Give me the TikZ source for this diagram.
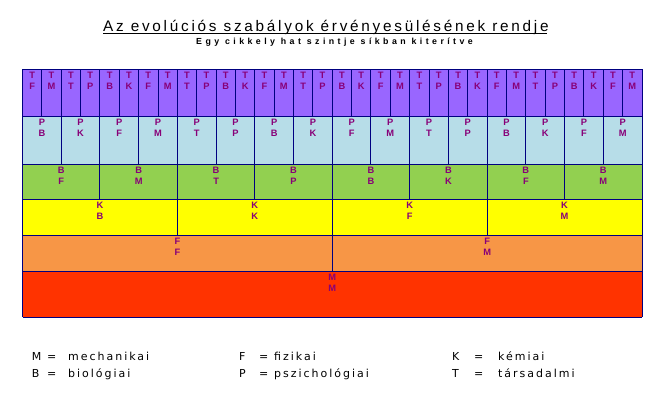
\documentclass[tikz,border=0pt]{standalone}
\usepackage{fontspec}
\setmainfont{Liberation Sans}
\newfontfamily\cellafont{DejaVu Sans}
\usepackage{tikz}

\definecolor{keret}{RGB}{0,0,128}
\definecolor{betu}{RGB}{136,0,120}
\definecolor{lila}{RGB}{153,102,255}
\definecolor{kek}{RGB}{183,221,232}
\definecolor{zold}{RGB}{146,208,80}
\definecolor{sarga}{RGB}{255,255,0}
\definecolor{narancs}{RGB}{247,150,70}
\definecolor{piros}{RGB}{255,51,0}

\tikzset{
  cimke/.style={anchor=north, inner sep=0pt, yshift=-2.2pt, align=center, text=betu,
    font=\bfseries\fontsize{9.3}{11.2}\selectfont},
  jelmag/.style={anchor=base west, inner sep=0pt,
    font=\cellafont\fontsize{11}{13}\selectfont\addfontfeature{LetterSpace=18}},
  vonal/.style={draw=keret, line width=1pt}
}

\begin{document}
\begin{tikzpicture}[x=1pt,y=-1pt]
\useasboundingbox (0,0) rectangle (664,396);

% cim es alcim
\node[anchor=base west, inner sep=0pt] (cim) at (103,31.7)
  {\fontsize{15.3}{18}\selectfont\addfontfeature{LetterSpace=18}Az evolúciós szabályok érvényesülésének rendje};
\draw[line width=0.9pt] ([yshift=-1.6pt]cim.base west) -- ([yshift=-1.6pt,xshift=-2pt]cim.base east);
\node[anchor=base west, inner sep=0pt] (alcim) at (196,45)
  {\bfseries\fontsize{8.8}{10}\selectfont\addfontfeature{LetterSpace=39}Egy cikkely hat szintje síkban kiterítve};

% szintek: sorszam / felso / also / szin / cellak
\pgfmathsetmacro{\w}{619.5/32}
\foreach \s/\fent/\lent/\szin/\db in {1/69.3/116.7/lila/32, 2/116.7/164.3/kek/16,
    3/164.3/199.3/zold/8, 4/199.3/235.3/sarga/4, 5/235.3/271.3/narancs/2, 6/271.3/317/piros/1}{
  \pgfmathsetmacro{\cw}{619.5/\db}
  \fill[\szin] (22.5,\fent) rectangle (642,\lent);
  \foreach \k in {0,...,\db}{
    \draw[vonal] ({22.5+\k*\cw},\fent) -- ({22.5+\k*\cw},\lent);
  }
  \draw[vonal] (22.5,\fent) -- (642,\fent);
  \draw[vonal] (22.5,\lent) -- (642,\lent);
}

% cimkek
\foreach \b [count=\i from 0] in {F,M,T,P,B,K,F,M,T,P,B,K,F,M,T,P,B,K,F,M,T,P,B,K,F,M,T,P,B,K,F,M}{
  \node[cimke] (t\i) at ({22.5+(\i+0.5)*\w},69.3) {T\\\b};
}
\foreach \b [count=\i from 0] in {B,K,F,M,T,P,B,K,F,M,T,P,B,K,F,M}{
  \node[cimke] (p\i) at ({22.5+(\i+0.5)*2*\w},116.7) {P\\\b};
}
\foreach \b [count=\i from 0] in {F,M,T,P,B,K,F,M}{
  \node[cimke] (b\i) at ({22.5+(\i+0.5)*4*\w},164.3) {B\\\b};
}
\foreach \b [count=\i from 0] in {B,K,F,M}{
  \node[cimke] (k\i) at ({22.5+(\i+0.5)*8*\w},199.3) {K\\\b};
}
\foreach \b [count=\i from 0] in {F,M}{
  \node[cimke] (f\i) at ({22.5+(\i+0.5)*16*\w},235.3) {F\\\b};
}
\node[cimke] (m0) at (332.25,271.3) {M\\M};

% jelmagyarazat
\node[jelmag] (jm) at (31.7,360) {M};
\node[jelmag] (jme) at (47,360) {=};
\node[jelmag] (jmt) at (68,360) {mechanikai};
\node[jelmag] (jb) at (31.7,377) {B};
\node[jelmag] (jbe) at (47,377) {=};
\node[jelmag] (jbt) at (68,377) {biológiai};
\node[jelmag] (jf) at (239,360) {F};
\node[jelmag] (jfe) at (259,360) {=};
\node[jelmag] (jft) at (274,360) {fizikai};
\node[jelmag] (jp) at (239,377) {P};
\node[jelmag] (jpe) at (259,377) {=};
\node[jelmag] (jpt) at (274,377) {pszichológiai};
\node[jelmag] (jk) at (452,360) {K};
\node[jelmag] (jke) at (474,360) {=};
\node[jelmag] (jkt) at (498,360) {kémiai};
\node[jelmag] (jt) at (452,377) {T};
\node[jelmag] (jte) at (474,377) {=};
\node[jelmag] (jtt) at (498,377) {társadalmi};
\end{tikzpicture}
\end{document}
